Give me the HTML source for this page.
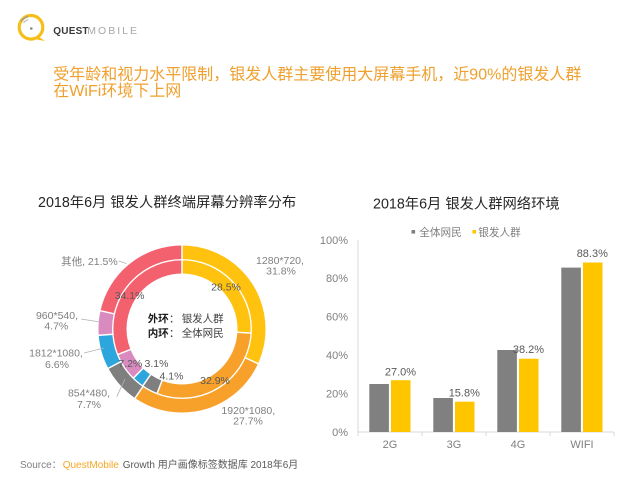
<!DOCTYPE html>
<html>
<head>
<meta charset="utf-8">
<style>
html,body{margin:0;padding:0;background:#fff;}
body{width:640px;height:480px;overflow:hidden;}
svg{display:block;}
text{font-family:"Liberation Sans","Noto Sans CJK SC",sans-serif;}
</style>
</head>
<body>
<svg width="640" height="480" viewBox="0 0 640 480" xmlns="http://www.w3.org/2000/svg">
<rect width="640" height="480" fill="#fff"/>

<!-- Logo -->
<g>
  <circle cx="31" cy="27.3" r="11.8" fill="none" stroke="#F6BE1A" stroke-width="3.2"/>
  <path d="M38.5 36.5 L45 41 L36.5 39.5 Z" fill="#F6BE1A"/>
  <circle cx="31.3" cy="28.5" r="1.3" fill="#888"/>
  <path d="M21 21.5 A12 12 0 0 1 28 16.5" fill="none" stroke="#9a9a9a" stroke-width="1.2"/>
  <path d="M23.5 23 A9 9 0 0 1 28.5 19.5" fill="none" stroke="#b5b5b5" stroke-width="1"/>
  <text x="53.3" y="34" font-size="10" font-weight="bold" fill="#3a3a3a" letter-spacing="0.2">QUEST</text>
  <text x="87.3" y="34" font-size="10.5" fill="#a8a8a8" letter-spacing="2">MOBILE</text>
</g>

<!-- Headline -->
<text x="53.3" y="79.3" font-size="16" fill="#EFA02E">受年龄和视力水平限制，银发人群主要使用大屏幕手机，近90%的银发人群</text>
<text x="53.3" y="96" font-size="16" fill="#EFA02E">在WiFi环境下上网</text>

<!-- Titles -->
<text x="38" y="207" font-size="14.3" fill="#262626">2018年6月 银发人群终端屏幕分辨率分布</text>
<text x="373" y="208.5" font-size="14.3" fill="#262626">2018年6月 银发人群网络环境</text>

<!-- Donut -->
<g transform="rotate(-90 182 329)" fill="none" stroke-width="13.7">
  <circle cx="182" cy="329" r="76.65" stroke="#FFC20E" stroke-dasharray="153.15 481.6" stroke-dashoffset="0"/>
  <circle cx="182" cy="329" r="76.65" stroke="#F7A02A" stroke-dasharray="133.40 481.6" stroke-dashoffset="-153.15"/>
  <circle cx="182" cy="329" r="76.65" stroke="#7F7F7F" stroke-dasharray="37.08 481.6" stroke-dashoffset="-286.55"/>
  <circle cx="182" cy="329" r="76.65" stroke="#2DA6DE" stroke-dasharray="31.79 481.6" stroke-dashoffset="-323.63"/>
  <circle cx="182" cy="329" r="76.65" stroke="#D98BC0" stroke-dasharray="22.64 481.6" stroke-dashoffset="-355.42"/>
  <circle cx="182" cy="329" r="76.65" stroke="#F3616F" stroke-dasharray="103.6 481.6" stroke-dashoffset="-378.06"/>
</g>
<g transform="rotate(-90 182 329)" fill="none" stroke-width="13.5">
  <circle cx="182" cy="329" r="62.25" stroke="#FFC20E" stroke-dasharray="101.43 391.13" stroke-dashoffset="0"/>
  <circle cx="182" cy="329" r="62.25" stroke="#F7A02A" stroke-dasharray="117.10 391.13" stroke-dashoffset="-101.43"/>
  <circle cx="182" cy="329" r="62.25" stroke="#7F7F7F" stroke-dasharray="14.59 391.13" stroke-dashoffset="-218.53"/>
  <circle cx="182" cy="329" r="62.25" stroke="#2DA6DE" stroke-dasharray="11.03 391.13" stroke-dashoffset="-233.12"/>
  <circle cx="182" cy="329" r="62.25" stroke="#D98BC0" stroke-dasharray="25.63 391.13" stroke-dashoffset="-244.15"/>
  <circle cx="182" cy="329" r="62.25" stroke="#F3616F" stroke-dasharray="121.4 391.13" stroke-dashoffset="-269.78"/>
</g>
<circle cx="182" cy="329" r="69.25" fill="none" stroke="#fff" stroke-width="1.3"/>
<g stroke="#fff" stroke-width="1.5">
  <line x1="182" y1="244.5" x2="182" y2="260" transform="rotate(0 182 329)"/>
  <line x1="182" y1="244.5" x2="182" y2="260" transform="rotate(114.48 182 329)"/>
  <line x1="182" y1="244.5" x2="182" y2="260" transform="rotate(214.2 182 329)"/>
  <line x1="182" y1="244.5" x2="182" y2="260" transform="rotate(241.92 182 329)"/>
  <line x1="182" y1="244.5" x2="182" y2="260" transform="rotate(265.68 182 329)"/>
  <line x1="182" y1="244.5" x2="182" y2="260" transform="rotate(282.6 182 329)"/>
  <line x1="182" y1="259.5" x2="182" y2="274" transform="rotate(0 182 329)"/>
  <line x1="182" y1="259.5" x2="182" y2="274" transform="rotate(93.36 182 329)"/>
  <line x1="182" y1="259.5" x2="182" y2="274" transform="rotate(201.13 182 329)"/>
  <line x1="182" y1="259.5" x2="182" y2="274" transform="rotate(214.56 182 329)"/>
  <line x1="182" y1="259.5" x2="182" y2="274" transform="rotate(224.71 182 329)"/>
  <line x1="182" y1="259.5" x2="182" y2="274" transform="rotate(248.31 182 329)"/>
</g>

<!-- Donut center text -->
<text x="147.7" y="321.8" font-size="10.5" font-weight="bold" fill="#1a1a1a">外环</text>
<text x="169" y="321.8" font-size="10.5" fill="#404040">：</text>
<text x="181.7" y="321.8" font-size="10.5" fill="#404040">银发人群</text>
<text x="147.7" y="336.4" font-size="10.5" font-weight="bold" fill="#1a1a1a">内环</text>
<text x="169" y="336.4" font-size="10.5" fill="#404040">：</text>
<text x="181.7" y="336.4" font-size="10.5" fill="#404040">全体网民</text>

<!-- Inner labels -->
<g font-size="10.5" fill="#595959" text-anchor="middle">
  <text x="226" y="290.5">28.5%</text>
  <text x="129.6" y="298.8">34.1%</text>
  <text x="130.3" y="366.8">7.2%</text>
  <text x="156.5" y="366.8">3.1%</text>
  <text x="171.5" y="379.5">4.1%</text>
  <text x="215" y="383.8">32.9%</text>
</g>

<!-- Outer labels -->
<g font-size="10.5" fill="#7f7f7f" text-anchor="middle">
  <text x="280" y="263.8">1280*720,</text>
  <text x="281" y="274.6">31.8%</text>
  <text x="248.3" y="413.8">1920*1080,</text>
  <text x="248" y="424.4">27.7%</text>
  <text x="89" y="396.6">854*480,</text>
  <text x="89" y="407.8">7.7%</text>
  <text x="56" y="356.6">1812*1080,</text>
  <text x="57" y="367.8">6.6%</text>
  <text x="57" y="318.8">960*540,</text>
  <text x="56.3" y="329.6">4.7%</text>
  <text x="117.7" y="264.8" text-anchor="end">其他, 21.5%</text>
</g>
<g stroke="#b0b0b0" stroke-width="0.8" fill="none">
  <line x1="118.5" y1="261" x2="126.5" y2="263.5"/>
  <line x1="81" y1="319" x2="100" y2="322"/>
  <line x1="84" y1="353" x2="104" y2="348"/>
  <line x1="116.7" y1="396.7" x2="125" y2="379"/>
</g>

<!-- Bar chart -->
<g stroke="#d9d9d9" stroke-width="1" fill="none">
  <line x1="358" y1="240" x2="358" y2="432"/>
  <line x1="358" y1="432" x2="614" y2="432"/>
  <line x1="358" y1="432" x2="358" y2="436"/>
  <line x1="422" y1="432" x2="422" y2="436"/>
  <line x1="486" y1="432" x2="486" y2="436"/>
  <line x1="550" y1="432" x2="550" y2="436"/>
  <line x1="614" y1="432" x2="614" y2="436"/>
</g>
<g font-size="11" fill="#7f7f7f" text-anchor="end">
  <text x="348" y="244">100%</text>
  <text x="348" y="282.2">80%</text>
  <text x="348" y="320.6">60%</text>
  <text x="348" y="359">40%</text>
  <text x="348" y="397.4">20%</text>
  <text x="348" y="435.8">0%</text>
</g>
<g fill="#808080">
  <rect x="369.3" y="384" width="19.6" height="48"/>
  <rect x="433.3" y="398" width="19.6" height="34"/>
  <rect x="497.3" y="350" width="19.6" height="82"/>
  <rect x="561.3" y="267.6" width="19.6" height="164.4"/>
</g>
<g fill="#FFC600">
  <rect x="391" y="380.2" width="19.5" height="51.8"/>
  <rect x="455" y="401.7" width="19.5" height="30.3"/>
  <rect x="519" y="358.7" width="19.5" height="73.3"/>
  <rect x="583" y="262.5" width="19.5" height="169.5"/>
</g>
<g font-size="11" fill="#595959" text-anchor="middle">
  <text x="400.5" y="375.6">27.0%</text>
  <text x="464.3" y="396.6">15.8%</text>
  <text x="528.5" y="353">38.2%</text>
  <text x="592.3" y="257.2">88.3%</text>
</g>
<g font-size="11" fill="#7f7f7f" text-anchor="middle">
  <text x="390" y="448">2G</text>
  <text x="454" y="448">3G</text>
  <text x="518" y="448">4G</text>
  <text x="582" y="448">WIFI</text>
</g>
<!-- Legend -->
<rect x="411.5" y="230" width="3.6" height="3.6" fill="#808080"/>
<text x="419.3" y="236" font-size="10.6" fill="#7f7f7f">全体网民</text>
<rect x="472.5" y="230" width="3.6" height="3.6" fill="#FFC600"/>
<text x="478.3" y="236" font-size="10.6" fill="#7f7f7f">银发人群</text>

<!-- Source -->
<text x="20" y="468" font-size="10" fill="#7f7f7f">Source：</text>
<text x="62.7" y="468" font-size="10" fill="#F5A623">QuestMobile</text>
<text x="122.7" y="468" font-size="10" fill="#595959">Growth 用户画像标签数据库 2018年6月</text>
</svg>
</body>
</html>
